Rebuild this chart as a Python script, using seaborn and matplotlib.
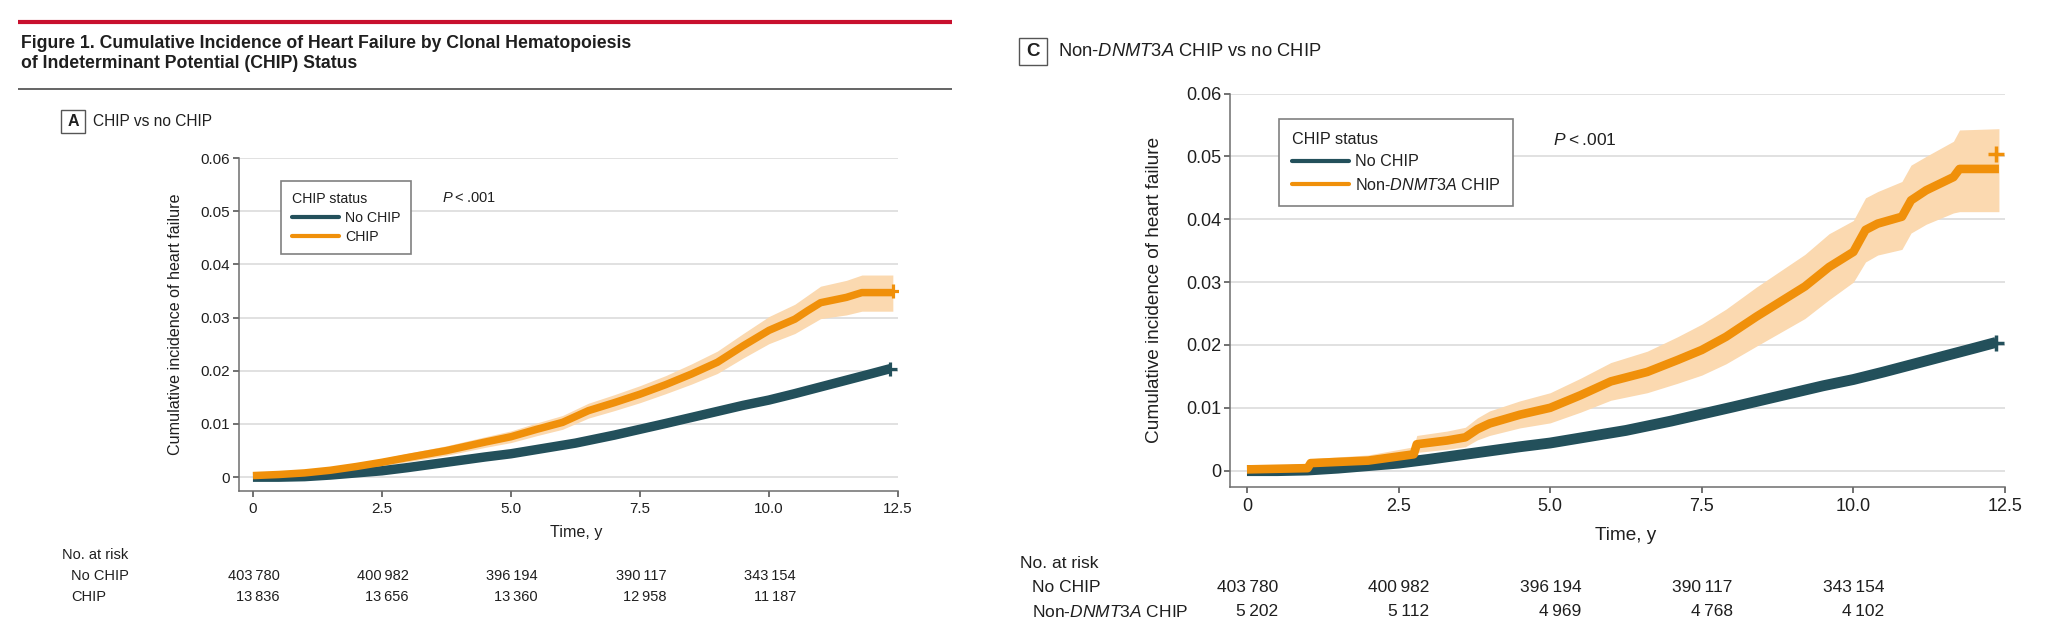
import numpy as np
import pandas as pd
import matplotlib
matplotlib.use("Agg")
import matplotlib.pyplot as plt
import matplotlib.transforms as mtransforms
from matplotlib.lines import Line2D
from matplotlib.patches import Rectangle
import seaborn as sns

# ---------------- data ----------------
nochip_t = [0.0, 0.5, 1.0, 1.5, 2.0, 2.5, 3.0, 3.75, 4.5, 5.0, 5.5, 6.25, 7.0, 7.5,
            8.0, 8.75, 9.5, 10.0, 10.5, 11.25, 12.0, 12.35]
nochip_y = [0.0, 0.0, 0.0001, 0.0004, 0.0008, 0.0012, 0.0018, 0.0028, 0.0038, 0.0044,
            0.0052, 0.0064, 0.0079, 0.0090, 0.0101, 0.0118, 0.0135, 0.0145, 0.0157,
            0.0176, 0.0195, 0.0204]

chip_t = [0.0, 0.5, 1.0, 1.5, 2.0, 2.5, 3.0, 3.75, 4.5, 5.0, 5.5, 6.0, 6.5, 7.0, 7.5,
          8.0, 8.5, 9.0, 9.5, 10.0, 10.5, 10.75, 11.0, 11.5, 11.8, 12.4]
chip_y = [0.0003, 0.0005, 0.0008, 0.0013, 0.0020, 0.0028, 0.0037, 0.0050, 0.0066, 0.0076,
          0.0090, 0.0103, 0.0125, 0.0140, 0.0156, 0.0174, 0.0194, 0.0216, 0.0247, 0.0276,
          0.0297, 0.0313, 0.0328, 0.0338, 0.0347, 0.0347]
chip_lo = [0.0001, 0.0002, 0.0004, 0.0008, 0.0014, 0.0021, 0.0029, 0.0041, 0.0056, 0.0065,
           0.0078, 0.0090, 0.0111, 0.0125, 0.0140, 0.0157, 0.0175, 0.0195, 0.0224, 0.0251,
           0.0270, 0.0284, 0.0298, 0.0305, 0.0312, 0.0312]
chip_hi = [0.0006, 0.0008, 0.0012, 0.0018, 0.0026, 0.0035, 0.0045, 0.0059, 0.0076, 0.0087,
           0.0102, 0.0116, 0.0139, 0.0155, 0.0172, 0.0191, 0.0213, 0.0237, 0.0270, 0.0302,
           0.0325, 0.0342, 0.0359, 0.0370, 0.0380, 0.0380]

nond_t = [0.0, 0.5, 1.0, 1.05, 2.0, 2.75, 2.8, 3.3, 3.6, 3.8, 4.0, 4.5, 5.0, 5.5, 6.0, 6.6,
          7.1, 7.5, 7.9, 8.4, 8.8, 9.2, 9.6, 10.0, 10.2, 10.4, 10.8, 10.95, 11.2, 11.65,
          11.75, 12.4]
nond_y = [0.0002, 0.0003, 0.0004, 0.0012, 0.0016, 0.0026, 0.0042, 0.0048, 0.0053, 0.0066,
          0.0075, 0.0089, 0.0100, 0.0120, 0.0142, 0.0157, 0.0176, 0.0192, 0.0213, 0.0245,
          0.0269, 0.0293, 0.0324, 0.0348, 0.0383, 0.0393, 0.0404, 0.0430, 0.0446, 0.0467,
          0.0480, 0.0480]
nond_lo = [0.0, 0.0, 0.0, 0.0006, 0.0008, 0.0015, 0.0029, 0.0034, 0.0038, 0.0049,
           0.0056, 0.0068, 0.0076, 0.0093, 0.0112, 0.0124, 0.0139, 0.0152, 0.0170, 0.0198,
           0.0220, 0.0242, 0.0272, 0.0300, 0.0332, 0.0343, 0.0352, 0.0378, 0.0392, 0.0410,
           0.0412, 0.0412]
nond_hi = [0.0005, 0.0007, 0.0009, 0.0019, 0.0025, 0.0038, 0.0056, 0.0063, 0.0069, 0.0084,
           0.0095, 0.0111, 0.0124, 0.0147, 0.0172, 0.0190, 0.0213, 0.0233, 0.0257, 0.0292,
           0.0318, 0.0344, 0.0377, 0.0398, 0.0434, 0.0444, 0.0460, 0.0486, 0.0500, 0.0524,
           0.0542, 0.0544]

# censoring marks at the end of the curves
nochip_end_t, nochip_end_y = [12.35], [0.0203]
chip_end_t, chip_end_y = [12.4], [0.0350]
nond_end_t, nond_end_y = [12.35], [0.0504]

risk_times = [0.0, 2.5, 5.0, 7.5, 10.0]
risk_nochip = [403780, 400982, 396194, 390117, 343154]
risk_chip = [13836, 13656, 13360, 12958, 11187]
risk_nond = [5202, 5112, 4969, 4768, 4102]

x_ticks = [0, 2.5, 5.0, 7.5, 10.0, 12.5]
x_tick_labels = ["0", "2.5", "5.0", "7.5", "10.0", "12.5"]
y_ticks = [0, 0.01, 0.02, 0.03, 0.04, 0.05, 0.06]
y_tick_labels = ["0", "0.01", "0.02", "0.03", "0.04", "0.05", "0.06"]

title_lines = ["Figure 1. Cumulative Incidence of Heart Failure by Clonal Hematopoiesis",
               "of Indeterminant Potential (CHIP) Status"]
header_a = "CHIP vs no CHIP"
header_c = r"Non-$\mathit{DNMT3A}$ CHIP vs no CHIP"
legend_title = "CHIP status"
label_nochip = "No CHIP"
label_chip = "CHIP"
label_nond = r"Non-$\mathit{DNMT3A}$ CHIP"
y_label = "Cumulative incidence of heart failure"
x_label = "Time, y"
p_text = r"$P$" + "\u2009<\u2009.001"

# ---------------- style ----------------
TEAL = "#23505b"
ORANGE = "#f0900a"
BAND = "#fbd9b0"
GRID = "#dcdcdc"
SPINE = "#6e6e6e"
TXT = "#1f1f1f"

sns.set_theme(style="white")
REG = ["Liberation Sans", "DejaVu Sans"]
plt.rcParams["font.family"] = REG
plt.rcParams["mathtext.fontset"] = "custom"
plt.rcParams["mathtext.rm"] = "Liberation Sans"
plt.rcParams["mathtext.it"] = "Liberation Sans:italic"
plt.rcParams["mathtext.bf"] = "Liberation Sans:bold"

W, H = 2048, 637
fig = plt.figure(figsize=(W / 100, H / 100), dpi=100)
fig.patch.set_facecolor("white")

# overlay axes in pixel coordinates for page decorations
ov = fig.add_axes([0, 0, 1, 1], zorder=-1)
ov.set_xlim(0, W)
ov.set_ylim(H, 0)
ov.axis("off")


def px_rect(left, top, right, bottom):
    return [left / W, 1 - bottom / H, (right - left) / W, (bottom - top) / H]


axA = fig.add_axes(px_rect(238.5, 158, 898, 491))
axC = fig.add_axes(px_rect(1230, 93.5, 2005, 487))
for ax in (axA, axC):
    ax.set_facecolor("none")


def style_axes(ax, fs_tick, fs_lab, xlab_pos, ylab_pos):
    ax.set_xlim(-0.28, 12.5)
    ax.set_ylim(-0.0026, 0.06)
    ax.set_xticks(x_ticks)
    ax.set_xticklabels(x_tick_labels)
    ax.set_yticks(y_ticks)
    ax.set_yticklabels(y_tick_labels)
    ax.grid(False)
    ax.yaxis.grid(True, color=GRID, linewidth=1.2)
    ax.set_axisbelow(True)
    for s in ("top", "right"):
        ax.spines[s].set_visible(False)
    for s in ("left", "bottom"):
        ax.spines[s].set_color(SPINE)
        ax.spines[s].set_linewidth(1.1)
    ax.tick_params(axis="both", direction="out", length=4.5, width=1.1, color="#4a4a4a",
                   labelsize=fs_tick, labelcolor=TXT, left=True, bottom=True)
    ax.tick_params(axis="x", pad=3.5)
    ax.tick_params(axis="y", pad=1.5)
    ax.set_xlabel(x_label, fontsize=fs_lab, color=TXT)
    ax.set_ylabel(y_label, fontsize=fs_lab, color=TXT)
    ax.xaxis.set_label_coords(*xlab_pos)
    ax.xaxis.label.set_va("center")
    ax.yaxis.set_label_coords(*ylab_pos)
    ax.yaxis.label.set_va("center")


# ---------------- panel A ----------------
axA.fill_between(chip_t, chip_lo, chip_hi, color=BAND, linewidth=0, zorder=2)
sns.lineplot(x=nochip_t, y=nochip_y, ax=axA, color=TEAL, linewidth=6.8, estimator=None,
             zorder=3, solid_capstyle="butt")
sns.lineplot(x=chip_t, y=chip_y, ax=axA, color=ORANGE, linewidth=5.4, estimator=None,
             zorder=4, solid_capstyle="butt")
sns.scatterplot(x=nochip_end_t, y=nochip_end_y, ax=axA, marker="+", s=100, color=TEAL,
                linewidth=2.3, zorder=5)
sns.scatterplot(x=chip_end_t, y=chip_end_y, ax=axA, marker="+", s=100, color=ORANGE,
                linewidth=2.3, zorder=5)
style_axes(axA, 11, 11.6, (0.5118, -0.126), (-0.0948, 0.5))

# ---------------- panel C ----------------
axC.fill_between(nond_t, nond_lo, nond_hi, color=BAND, linewidth=0, zorder=2)
sns.lineplot(x=nochip_t, y=nochip_y, ax=axC, color=TEAL, linewidth=7.8, estimator=None,
             zorder=3, solid_capstyle="butt")
sns.lineplot(x=nond_t, y=nond_y, ax=axC, color=ORANGE, linewidth=6.2, estimator=None,
             zorder=4, solid_capstyle="butt")
sns.scatterplot(x=nochip_end_t, y=nochip_end_y, ax=axC, marker="+", s=120, color=TEAL,
                linewidth=2.5, zorder=5)
sns.scatterplot(x=nond_end_t, y=nond_end_y, ax=axC, marker="+", s=120, color=ORANGE,
                linewidth=2.5, zorder=5)
style_axes(axC, 13, 13.7, (0.511, -0.122), (-0.0968, 0.5))


# ---------------- legends ----------------
def make_legend(ax, labels, anchor_px, fs, hlen, hpad, bpad, lspace):
    handles = [Line2D([], [], color=TEAL, linewidth=3.0),
               Line2D([], [], color=ORANGE, linewidth=3.0)]
    leg = ax.legend(handles, labels, title=legend_title, loc="upper left",
                    bbox_to_anchor=anchor_px, bbox_transform=ov.transData,
                    borderaxespad=0, frameon=True, fancybox=False, shadow=False,
                    framealpha=1, edgecolor="#808080", facecolor="white",
                    fontsize=fs, title_fontsize=fs, handlelength=hlen,
                    handletextpad=hpad, borderpad=bpad, labelspacing=lspace,
                    alignment="left")
    leg.get_frame().set_linewidth(1.2)
    for t in leg.get_texts():
        t.set_color(TXT)
    leg.get_title().set_color(TXT)
    leg.set_zorder(10)
    return leg


make_legend(axA, [label_nochip, label_chip], (281, 181), 10.2, 3.35, 0.42, 0.75, 0.36)
make_legend(axC, [label_nochip, label_nond], (1279, 119), 11.6, 3.5, 0.37, 0.82, 0.45)

# P values
ov.text(442, 198, p_text, fontsize=10.5, color=TXT, ha="left", va="center")
ov.text(1553, 140, p_text, fontsize=12.5, color=TXT, ha="left", va="center")

# ---------------- page decorations ----------------
ov.plot([18, 952], [22, 22], color="#c8102e", linewidth=3.0, solid_capstyle="butt")
ov.text(21, 43, title_lines[0], fontsize=12.7, fontweight="bold",
        color=TXT, ha="left", va="center")
ov.text(21, 64, title_lines[1], fontsize=12.7, fontweight="bold",
        color=TXT, ha="left", va="center")
ov.plot([18, 952], [89, 89], color="#3a3a3a", linewidth=1.1, solid_capstyle="butt")

# panel letters
ov.add_patch(Rectangle((61, 110), 24, 23, fill=False, edgecolor="#555555", linewidth=1.0))
ov.text(73, 121.5, "A", fontsize=11.5, fontweight="bold", color=TXT, ha="center", va="center")
ov.text(93, 122, header_a, fontsize=11.2, color=TXT, ha="left", va="center")

ov.add_patch(Rectangle((1019, 38), 28, 27, fill=False, edgecolor="#555555", linewidth=1.0))
ov.text(1033, 51.5, "C", fontsize=13.5, fontweight="bold", color=TXT, ha="center", va="center")
ov.text(1058, 52, header_c, fontsize=13.2, color=TXT, ha="left", va="center")


# ---------------- number-at-risk tables ----------------
def fmt(n):
    return f"{n:,}".replace(",", "\u2009")


def risk_table(ax, head_xy, row_x, row_ys, row_labels, row_values, dx_px, fs):
    ov.text(head_xy[0], head_xy[1], "No. at risk", fontsize=fs, color=TXT,
            ha="left", va="center")
    trans = (mtransforms.blended_transform_factory(ax.transData, ov.transData)
             + mtransforms.ScaledTranslation(dx_px / fig.dpi, 0, fig.dpi_scale_trans))
    for y, lab, vals in zip(row_ys, row_labels, row_values):
        ov.text(row_x, y, lab, fontsize=fs, color=TXT, ha="left", va="center")
        for t, v in zip(risk_times, vals):
            ov.text(t, y, fmt(v), transform=trans, fontsize=fs, color=TXT,
                    ha="right", va="center")


risk_table(axA, (62, 555), 71, [576, 597], [label_nochip, label_chip],
           [risk_nochip, risk_chip], 27, 10.5)
risk_table(axC, (1020, 563), 1032, [587, 612], [label_nochip, label_nond],
           [risk_nochip, risk_nond], 31, 12.5)

fig.savefig("out.png", dpi=100, facecolor="white")
